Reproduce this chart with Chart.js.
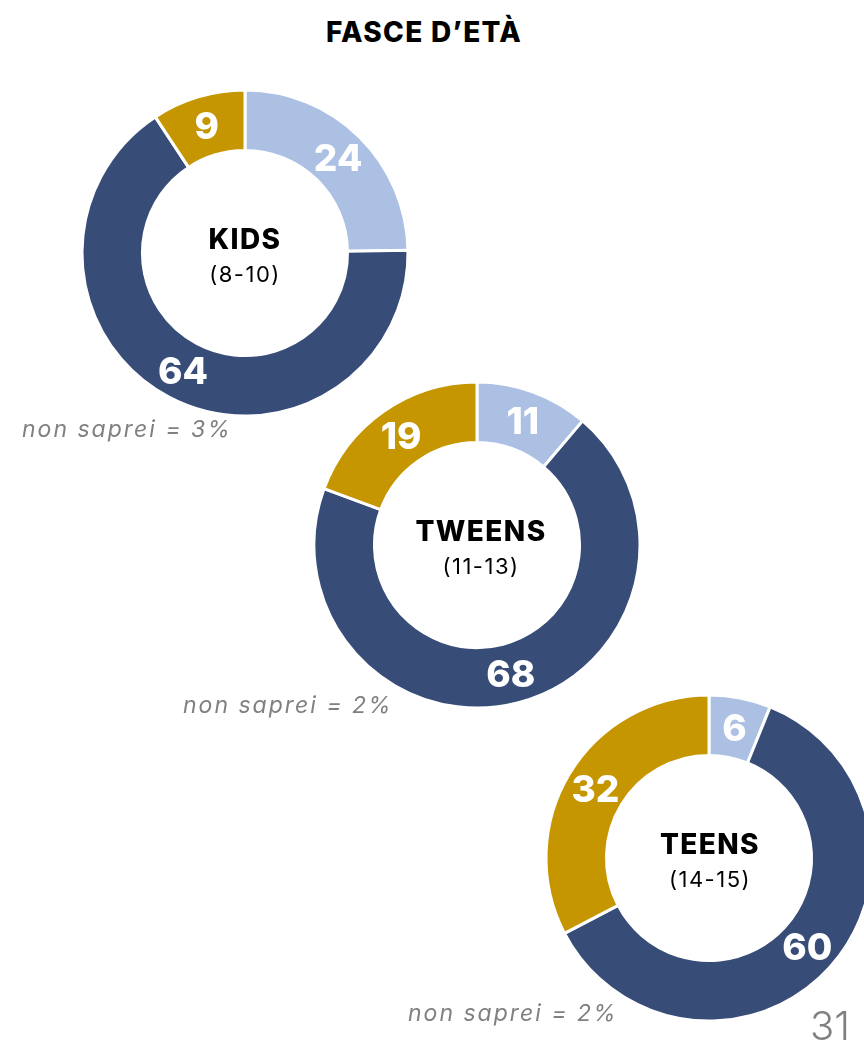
<!DOCTYPE html>
<html lang="it">
<head>
<meta charset="utf-8">
<title>Fasce d'età</title>
<script src="https://cdn.jsdelivr.net/npm/chart.js@4/dist/chart.umd.min.js"></script>
<style>
  html, body { margin: 0; padding: 0; background: #fff; }
  body { width: 864px; height: 1045px; position: relative; overflow: hidden; font-family: "Inter", "Open Sans", sans-serif; }
  .title { position: absolute; left: -8px; width: 864px; top: 15px; text-align: center; font-weight: 800; font-size: 28px; line-height: 34px; color: #000; letter-spacing: 1.3px; }
  .ring { position: absolute; width: 340px; height: 340px; }
  .ring canvas { position: absolute; left: 0; top: 0; }
  .center { position: absolute; width: 220px; text-align: center; color: #000; line-height: 1; }
  .center .name { font-weight: 800; font-size: 28px; letter-spacing: 1.4px; }
  .center .age { font-weight: 400; font-size: 22px; letter-spacing: 1.5px; margin-top: 10px; }
  .note { position: absolute; font-style: italic; font-size: 23px; letter-spacing: 2px; color: #808080; line-height: 1; white-space: nowrap; }
  .page { position: absolute; right: 14px; top: 1006px; font-size: 40px; color: #808080; font-weight: 300; line-height: 1; }
</style>
</head>
<body>
<div class="title">FASCE D’ETÀ</div>

<script>
// Response shares per age group (percent); "non saprei" is reported apart.
const segmentNames = ['A', 'B', 'C'];
const kidsValues   = [24, 64, 9];
const tweensValues = [11, 68, 19];
const teensValues  = [6, 60, 32];
const groupNames   = ['KIDS', 'TWEENS', 'TEENS'];
const groupAges    = ['(8-10)', '(11-13)', '(14-15)'];
const dontKnow     = [3, 2, 2];

const segmentColors = ['#abc0e3', '#374c77', '#c59600'];

// Layout of each ring on the page: centre point and note position.
const layouts = [
  { cx: 245, cy: 253, textDx: 0, noteX: 22,  noteY: 418 },
  { cx: 477, cy: 545, textDx: 4, noteX: 183, noteY: 694 },
  { cx: 709, cy: 858, textDx: 1, noteX: 408, noteY: 1002 }
];
const groupValues = [kidsValues, tweensValues, teensValues];

// Writes each slice's value in white at the middle of its arc.
const sliceLabels = {
  id: 'sliceLabels',
  afterDatasetsDraw(chart) {
    const ctx = chart.ctx;
    const meta = chart.getDatasetMeta(0);
    const data = chart.data.datasets[0].data;
    ctx.save();
    ctx.fillStyle = '#ffffff';
    ctx.font = '800 37px Inter, "Open Sans", sans-serif';
    ctx.textAlign = 'center';
    ctx.textBaseline = 'middle';
    meta.data.forEach((arc, i) => {
      const p = arc.tooltipPosition();
      ctx.fillText(String(data[i]), p.x, p.y + 2);
    });
    ctx.restore();
  }
};

const SIZE = 340;
groupValues.forEach((values, g) => {
  const L = layouts[g];
  const wrap = document.createElement('div');
  wrap.className = 'ring';
  wrap.style.left = (L.cx - SIZE / 2) + 'px';
  wrap.style.top = (L.cy - SIZE / 2) + 'px';
  const canvas = document.createElement('canvas');
  canvas.width = SIZE;
  canvas.height = SIZE;
  wrap.appendChild(canvas);
  document.body.appendChild(wrap);

  new Chart(canvas, {
    type: 'doughnut',
    data: {
      labels: segmentNames,
      datasets: [{
        data: values,
        backgroundColor: segmentColors,
        borderColor: '#ffffff',
        borderWidth: 3
      }]
    },
    options: {
      responsive: false,
      animation: false,
      radius: 163,
      cutout: 106,
      layout: { padding: 0 },
      plugins: { legend: { display: false }, tooltip: { enabled: false } }
    },
    plugins: [sliceLabels]
  });

  const center = document.createElement('div');
  center.className = 'center';
  center.style.left = (L.cx - 110 + L.textDx) + 'px';
  center.style.top = (L.cy - 28) + 'px';
  center.innerHTML = '<div class="name">' + groupNames[g] + '</div><div class="age">' + groupAges[g] + '</div>';
  document.body.appendChild(center);

  const note = document.createElement('div');
  note.className = 'note';
  note.style.left = L.noteX + 'px';
  note.style.top = L.noteY + 'px';
  note.textContent = 'non saprei = ' + dontKnow[g] + '%';
  document.body.appendChild(note);
});
</script>
<div class="page">31</div>
</body>
</html>
